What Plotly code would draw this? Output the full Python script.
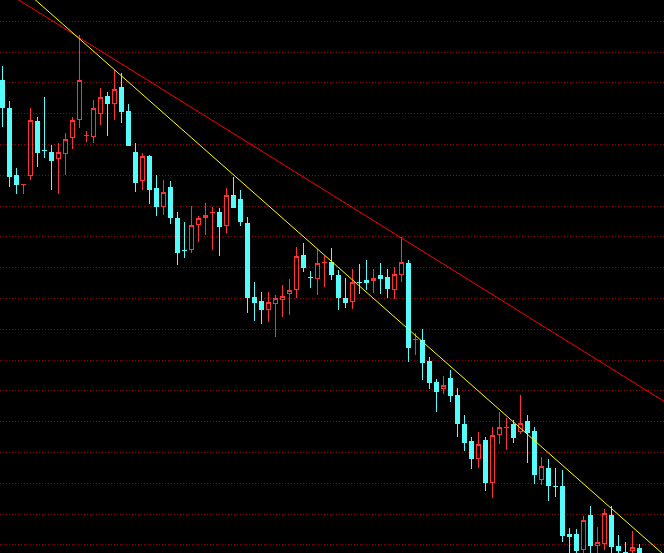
import plotly.graph_objects as go

idx = list(range(92))
opens = [57.3, 54.5, 47.8, 46.85, 47.8, 53.2, 50.3, 50.1, 49.5, 50.0,
         51.6, 53.4, 51.75, 51.7, 54.0, 55.7, 55.0, 56.6, 54.2, 50.1,
         47.3, 49.7, 46.5, 44.7, 46.6, 43.5, 40.3, 40.4, 42.9, 43.6,
         44.05, 44.1, 42.8, 45.8, 45.4, 43.0, 35.6, 35.2, 34.4, 35.0,
         35.4, 36.0, 36.4, 39.8, 37.6, 37.5, 39.05, 39.1, 37.8, 35.5,
         35.2, 37.1, 37.3, 37.3, 37.8, 37.6, 36.4, 37.9, 39.0, 31.35,
         31.3, 29.2, 27.1, 26.5, 27.5, 25.8, 22.9, 21.2, 19.5, 21.3,
         17.1, 21.9, 22.55, 22.9, 22.2, 23.2, 22.2, 17.4, 18.5, 16.7,
         16.7, 11.9, 11.9, 10.4, 13.8, 10.8, 11.0, 13.8, 10.7, 10.1,
         10.3, 10.5]
highs = [58.7, 55.2, 48.5, 46.9, 54.5, 53.6, 55.6, 50.8, 51.0, 52.0,
         53.6, 61.8, 52.2, 55.3, 56.5, 56.1, 58.3, 58.0, 54.9, 51.0,
         50.0, 49.8, 47.8, 47.3, 47.2, 44.1, 43.1, 44.7, 43.7, 45.0,
         44.6, 44.5, 46.5, 47.6, 46.3, 43.6, 37.1, 36.1, 36.1, 35.8,
         36.8, 37.4, 40.6, 41.0, 38.2, 40.4, 39.7, 40.5, 38.3, 37.5,
         38.4, 38.9, 39.3, 38.4, 39.0, 38.4, 38.6, 41.6, 39.3, 32.0,
         32.4, 29.6, 27.4, 27.7, 28.3, 26.5, 23.8, 21.6, 22.1, 21.6,
         22.6, 24.1, 23.5, 23.3, 25.8, 23.8, 22.6, 19.6, 19.4, 18.5,
         18.3, 12.5, 12.4, 13.7, 14.7, 12.6, 14.4, 14.7, 11.8, 11.1,
         12.2, 10.9]
lows = [52.6, 46.6, 45.9, 45.9, 47.3, 48.6, 49.5, 46.3, 45.9, 47.8,
        50.4, 52.5, 51.1, 51.0, 52.8, 51.7, 53.3, 53.0, 50.8, 46.1,
        46.3, 44.9, 43.7, 43.8, 42.9, 38.8, 39.5, 40.0, 41.1, 41.8,
        40.3, 39.7, 42.0, 44.5, 42.7, 34.0, 33.2, 32.9, 33.1, 31.6,
        33.6, 33.8, 35.5, 38.1, 36.5, 35.8, 36.6, 37.3, 34.3, 34.5,
        34.4, 35.9, 36.3, 36.0, 35.9, 35.5, 35.4, 37.1, 29.1, 29.8,
        27.3, 26.4, 24.1, 25.9, 25.1, 21.6, 20.2, 18.4, 18.5, 16.2,
        15.5, 20.9, 20.3, 21.0, 21.9, 19.0, 16.9, 16.8, 15.2, 15.6,
        11.1, 9.3, 9.7, 9.5, 9.7, 9.7, 10.3, 9.7, 9.7, 9.3,
        9.7, 9.3]
closes = [54.6, 47.7, 46.9, 46.9, 53.3, 50.1, 50.25, 49.3, 50.1, 51.4,
          53.3, 57.3, 51.8, 54.5, 55.6, 55.0, 56.4, 54.2, 50.8, 47.1,
          49.7, 46.4, 44.7, 46.1, 43.6, 40.1, 40.25, 42.8, 43.5, 43.8,
          44.1, 42.7, 45.8, 44.6, 43.2, 35.6, 35.1, 34.4, 35.1, 35.5,
          35.7, 36.3, 39.7, 38.6, 37.55, 39.0, 39.1, 37.9, 35.6, 35.1,
          37.1, 37.05, 37.1, 37.5, 37.5, 36.5, 37.9, 39.1, 30.6, 31.4,
          29.1, 27.1, 26.2, 26.8, 25.8, 23.0, 21.1, 19.5, 20.9, 17.1,
          21.8, 22.6, 22.6, 21.6, 23.0, 22.1, 17.9, 18.7, 16.8, 16.65,
          11.8, 11.7, 10.3, 13.3, 10.8, 11.1, 14.0, 10.7, 10.3, 9.7,
          10.6, 9.7]

red_line_x = [0, 95]
red_line_y = [66.31, 24.95]
yellow_line_x = [0, 95]
yellow_line_y = [68.21, 9.50]

fig = go.Figure()
fig.add_trace(go.Candlestick(
    x=idx, open=opens, high=highs, low=lows, close=closes,
    increasing=dict(line=dict(color="#FF3232", width=1), fillcolor="#000000"),
    decreasing=dict(line=dict(color="#54FCFC", width=1), fillcolor="#54FCFC"),
    whiskerwidth=0, hoverinfo="skip", showlegend=False,
))
fig.add_trace(go.Scatter(x=red_line_x, y=red_line_y, mode="lines",
                         line=dict(color="#FF0000", width=1), hoverinfo="skip", showlegend=False))
fig.add_trace(go.Scatter(x=yellow_line_x, y=yellow_line_y, mode="lines",
                         line=dict(color="#FFFF00", width=1), hoverinfo="skip", showlegend=False))

fig.update_layout(
    width=664, height=553,
    margin=dict(l=0, r=0, t=0, b=0),
    paper_bgcolor="#000000", plot_bgcolor="#000000",
    boxgap=0, boxgroupgap=3/7,
    xaxis=dict(range=[-2.5/7, 661.5/7], visible=False, showgrid=False, zeroline=False,
               rangeslider=dict(visible=False), fixedrange=True),
    yaxis=dict(range=[10, 65.3], showgrid=True, gridcolor="#990000", griddash="1px,2px",
               gridwidth=1, tick0=63.17, dtick=3.08, showticklabels=False,
               zeroline=False, showline=False, ticks="", fixedrange=True),
    showlegend=False,
)
fig.write_html(
    "out.html",
    config={"displayModeBar": False},
    post_script="document.body.style.margin='0';document.body.style.padding='0';"
                "document.body.style.background='#000';document.body.style.overflow='hidden';"
                "document.querySelectorAll('.trace.boxes path, .gridlayer path')"
                ".forEach(function(p){p.style.shapeRendering='crispEdges';});",
)
